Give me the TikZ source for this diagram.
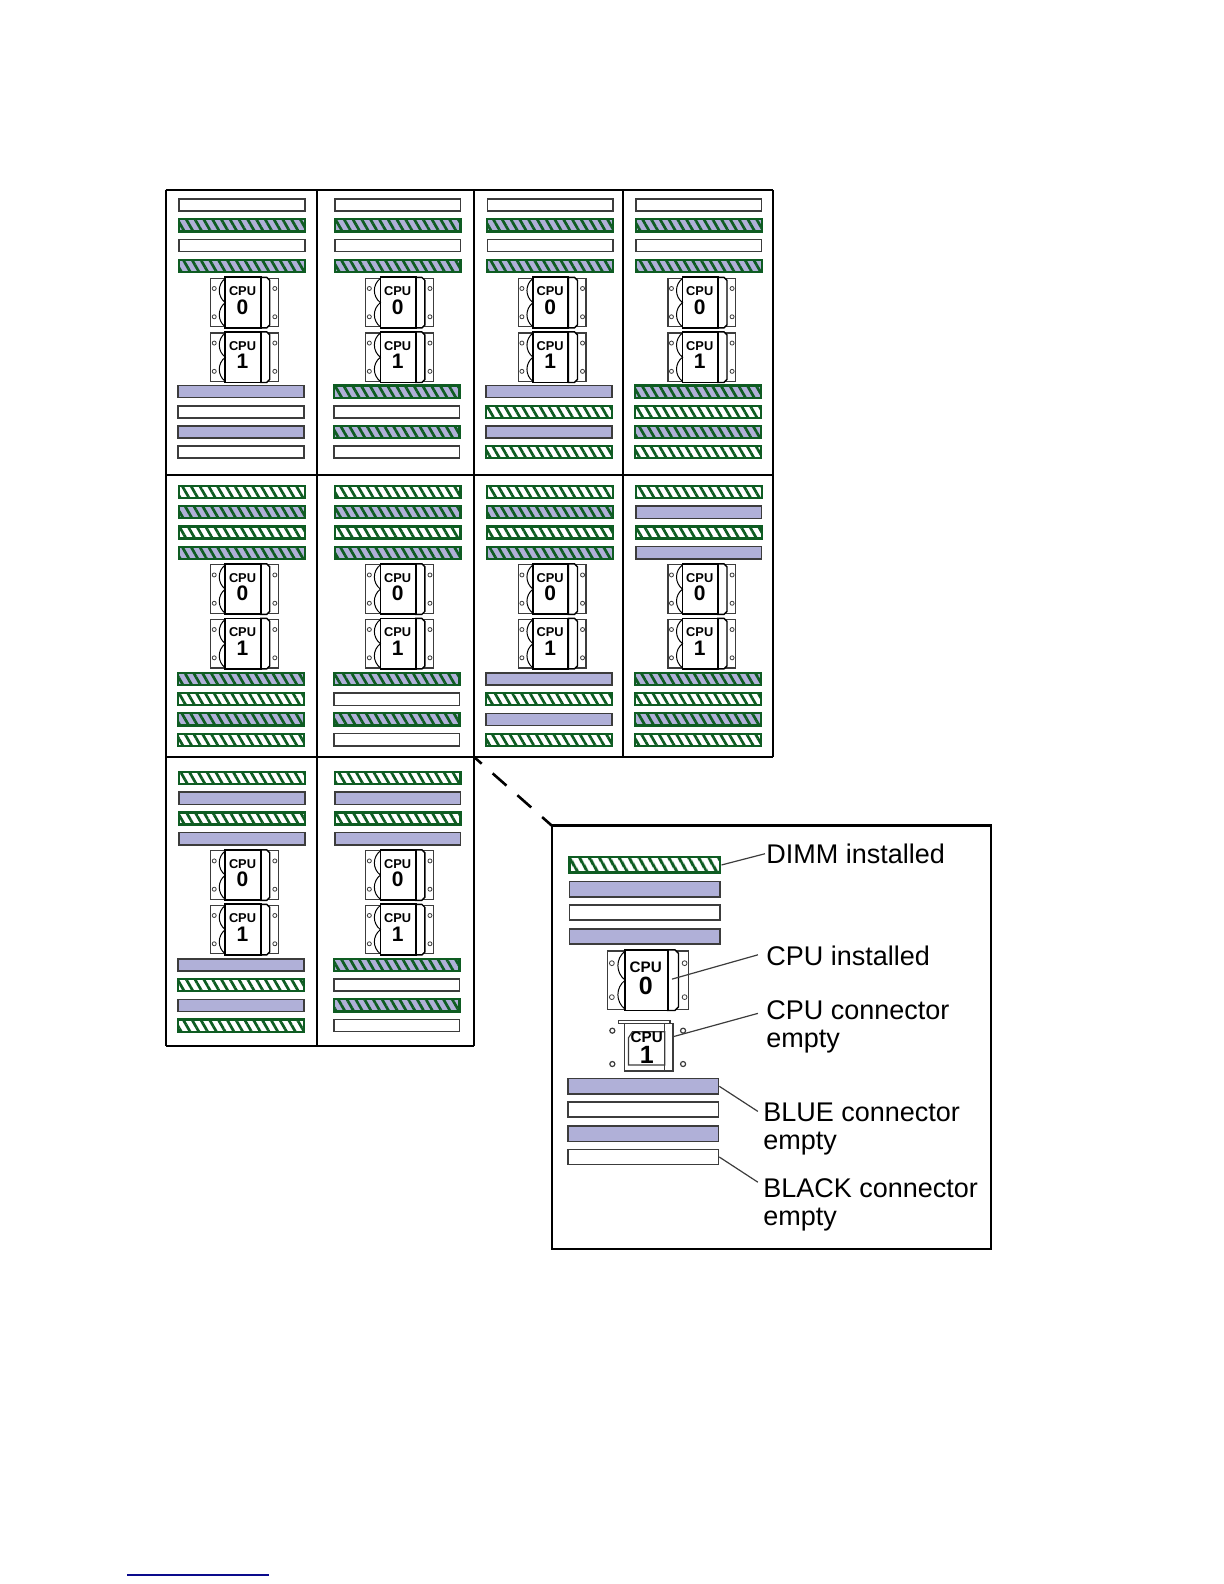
\documentclass[tikz,border=0pt]{standalone}
\usepackage{fontspec}
\setmainfont{Liberation Sans}
\usetikzlibrary{patterns.meta}
\newcommand{\myunit}{0.50525pt}
\definecolor{slotblue}{RGB}{176,176,216}
\definecolor{dimmgreen}{RGB}{14,92,34}
\definecolor{slotedge}{RGB}{60,60,60}
\definecolor{linkblue}{RGB}{10,10,140}
\tikzset{
    slot/.style={draw=slotedge,line width=0.8pt,inner sep=0pt,minimum width=124.5*\myunit,minimum height=12*\myunit},
    slotw/.style={slot,fill=white},
    slotb/.style={slot,fill=slotblue},
    slotg/.style={slot,draw=dimmgreen,line width=1.1pt,pattern={Lines[angle=-60,distance=3.8pt,line width=1.35pt]},pattern color=dimmgreen},
    slotgb/.style={slotg,preaction={fill=slotblue}},
    lgslot/.style={minimum width=149*\myunit,minimum height=15*\myunit},
    lgslotg/.style={slotg,lgslot,pattern={Lines[angle=-60,distance=4pt,line width=1.6pt]}},
    panel line/.style={line width=1pt},
    cpu thin/.style={line width=0.6pt,draw=slotedge},
    cpu thick/.style={line width=0.9pt,fill=white},
    lead/.style={line width=0.6pt,draw=slotedge},
    lgtext/.style={font=\fontsize{13.5}{13.8}\selectfont,inner sep=0pt,align=left,anchor=north west},
}
% one block of four memory connectors, 20 apart
\newcommand{\slotset}[4]{%
  \foreach \st [count=\i] in {#4} {\node[\st] (#1-\i) at (#2,{#3+20*(\i-1)}) {};}
}
% CPU in its socket: name, x, y, digit, scale, size of CPU, size of digit
\newcommand{\cpuinst}[7]{%
  \begin{scope}[shift={(#2,#3)},scale=#5]
    \draw[cpu thin,fill=white] (-33.5,-24) rectangle (33.5,24);
    \draw[cpu thin,line width=0.4pt] (-30,-14) circle (2) (-30,14) circle (2) (30,-14) circle (2) (30,14) circle (2);
    \draw[cpu thick,line width=0.7pt] (16,-25) -- (22,-25) -- (25,-22) -- (25,22) -- (22,25) -- (16,25) -- cycle;
    \draw[cpu thick] (-19,-25) rectangle (16,25);
    \draw[line width=0.5pt] (-19,-24) .. controls (-27,-18) and (-27,-6) .. (-19,0) .. controls (-27,6) and (-27,18) .. (-19,24);
    \node[font=\bfseries\fontsize{#6}{#6}\selectfont,inner sep=0pt] (#1-t) at (-2,-11) {CPU};
    \node[font=\bfseries\fontsize{#7}{#7}\selectfont,inner sep=0pt] (#1-d) at (-2,4.5) {#4};
  \end{scope}
}

\begin{document}
\begin{tikzpicture}[x=\myunit,y=-\myunit]
\useasboundingbox (0,0) rectangle (1211.3,1567.6);

% panels
\draw [panel line] (164,188) -- (765,188);
\draw [panel line] (164,470) -- (765,470);
\draw [panel line] (164,749) -- (765,749);
\draw [panel line] (164,1035) -- (469,1035);
\draw [panel line] (164,188) -- (164,1035);
\draw [panel line] (314,188) -- (314,1035);
\draw [panel line] (469,188) -- (469,1035);
\draw [panel line] (617,188) -- (617,749);
\draw [panel line] (765,188) -- (765,749);

% top row
\slotset{aa}{239.5}{203}{slotw,slotgb,slotw,slotgb}
\slotset{ab}{238.5}{387.5}{slotb,slotw,slotb,slotw}
\slotset{ba}{393.5}{203}{slotw,slotgb,slotw,slotgb}
\slotset{bb}{392.5}{387.5}{slotgb,slotw,slotgb,slotw}
\slotset{ca}{544.5}{203}{slotw,slotgb,slotw,slotgb}
\slotset{cb}{543.5}{387.5}{slotb,slotg,slotb,slotg}
\slotset{da}{691.5}{203}{slotw,slotgb,slotw,slotgb}
\slotset{db}{690.5}{387.5}{slotgb,slotg,slotgb,slotg}

% middle row
\slotset{ea}{239.5}{487}{slotg,slotgb,slotg,slotgb}
\slotset{eb}{238.5}{672}{slotgb,slotg,slotgb,slotg}
\slotset{fa}{393.5}{487}{slotg,slotgb,slotg,slotgb}
\slotset{fb}{392.5}{672}{slotgb,slotw,slotgb,slotw}
\slotset{ga}{544.5}{487}{slotg,slotgb,slotg,slotgb}
\slotset{gb}{543.5}{672}{slotb,slotg,slotb,slotg}
\slotset{ha}{691.5}{487}{slotg,slotb,slotg,slotb}
\slotset{hb}{690.5}{672}{slotgb,slotg,slotgb,slotg}

% bottom row
\slotset{ia}{239.5}{770}{slotg,slotb,slotg,slotb}
\slotset{ib}{238.5}{955}{slotb,slotg,slotb,slotg}
\slotset{ja}{393.5}{770}{slotg,slotb,slotg,slotb}
\slotset{jb}{392.5}{955}{slotgb,slotw,slotgb,slotw}

% the CPUs
\foreach \cx/\cn in {242/p,395.5/q,546.5/r,694.5/s} {
  \cpuinst{\cn a}{\cx}{299.5}{0}{1}{6.4}{10.5}
  \cpuinst{\cn b}{\cx}{353.5}{1}{1}{6.4}{10.5}
  \cpuinst{\cn c}{\cx}{583}{0}{1}{6.4}{10.5}
  \cpuinst{\cn d}{\cx}{637}{1}{1}{6.4}{10.5}
}
\foreach \cx/\cn in {242/p,395.5/q} {
  \cpuinst{\cn e}{\cx}{866}{0}{1}{6.4}{10.5}
  \cpuinst{\cn f}{\cx}{920}{1}{1}{6.4}{10.5}
}

% key
\coordinate (corner) at (469,749);
\coordinate (lgcorner) at (546,817);
\draw [line width=1.3pt,dash pattern=on 9.2pt off 7.3pt,dash phase=4pt] (corner) -- (lgcorner);
\draw [line width=1.2pt] (lgcorner) rectangle (981,1236);

\node[lgslotg] (lga) at (638,856) {};
\node[slotb,lgslot] (lgb) at (638,880) {};
\node[slotw,lgslot] (lgc) at (638,903) {};
\node[slotb,lgslot] (lgd) at (638,927) {};
\node[slotb,lgslot] (lge) at (636.5,1075) {};
\node[slotw,lgslot] (lgf) at (636.5,1098) {};
\node[slotb,lgslot] (lgg) at (636.5,1122) {};
\node[slotw,lgslot] (lgh) at (636.5,1145) {};

\cpuinst{lgcpu}{641.5}{970}{0}{1.2}{7.6}{12.5}

% empty socket
\draw [cpu thin] (612,1010) rectangle (663,1013);
\draw [cpu thin,line width=0.7pt] (618,1013) rectangle (666,1060);
\draw [cpu thin] (658,1013) -- (658,1060);
\draw [cpu thin] (626,1021) -- (658,1021) -- (658,1054) -- (622,1054) -- (622,1027) -- cycle;
\draw [cpu thin] (606,1020) circle (2.5) (676,1020) circle (2.5) (606,1053) circle (2.5) (676,1053) circle (2.5);
\node[font=\bfseries\fontsize{7.6}{7.6}\selectfont,inner sep=0pt] (lgsockt) at (640,1027) {CPU};
\node[font=\bfseries\fontsize{12.5}{12.5}\selectfont,inner sep=0pt] (lgsockd) at (640,1044) {1};
\coordinate (lgcputip) at (665,969);
\coordinate (lgsocktip) at (666,1026);

% key labels
\node[lgtext] (lbdimm) at (758,835) {DIMM installed};
\node[lgtext] (lbcpu) at (758,936) {CPU installed};
\node[lgtext] (lbsock) at (758,990) {CPU connector\\empty};
\node[lgtext] (lbblue) at (755,1091) {BLUE connector\\empty};
\node[lgtext] (lbblack) at (755,1166) {BLACK connector\\empty};

\draw [lead] (lga.east) -- ([xshift=-0.5pt,yshift=-5pt]lbdimm.north west);
\draw [lead] (lgcputip) -- ([xshift=-4pt,yshift=-4.5pt]lbcpu.north west);
\draw [lead] (lgsocktip) -- ([xshift=-4pt,yshift=-6.5pt]lbsock.north west);
\draw [lead] (lge.east) -- ([xshift=-2.5pt,yshift=-4.5pt]lbblue.north west);
\draw [lead] (lgh.east) -- ([xshift=-2.5pt,yshift=-2pt]lbblack.north west);

% stray link rule at the foot of the page
\coordinate (rulea) at (125.7,1558.6);
\coordinate (ruleb) at (266,1558.6);
\draw [linkblue,line width=0.7pt] (rulea) -- (ruleb);

\end{tikzpicture}
\end{document}
